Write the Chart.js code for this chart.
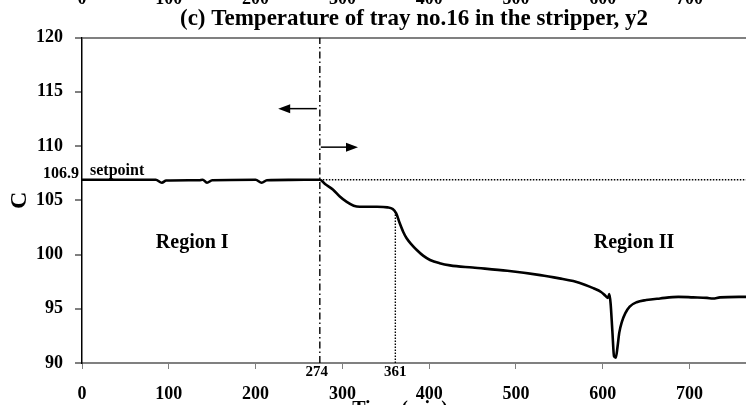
<!DOCTYPE html>
<html>
<head>
<meta charset="utf-8">
<script src="https://cdn.jsdelivr.net/npm/chart.js@4.4.1/dist/chart.umd.min.js"></script>
<style>
    html, body { margin: 0; padding: 0; background: #ffffff; }
    #wrap { width: 746px; height: 405px; position: relative; }
</style>
</head>
<body>
<div id="wrap"><canvas id="trayChart"></canvas></div>
<script>
// Tray no.16 temperature (y2)
const timeMin = [0, 85, 92, 97, 135, 139, 144, 150, 200, 207, 213, 240, 274,
    280, 289, 297, 305, 313, 320, 340, 352, 358, 362, 366, 370, 374, 380, 386,
    393, 401, 412, 424, 450, 490, 528, 550, 566, 580, 589, 598, 603, 606, 607.5,
    609, 611, 613, 615, 617, 619, 622, 626, 631, 639, 650, 666, 687, 704, 720,
    727, 735, 765];
const tempC = [106.9, 106.9, 106.62, 106.82, 106.85, 106.9, 106.62, 106.85,
    106.9, 106.62, 106.85, 106.88, 106.9,
    106.5, 106.0, 105.35, 104.85, 104.5, 104.4, 104.4, 104.35, 104.2, 103.8,
    102.9, 102.1, 101.5, 100.9, 100.4, 99.9, 99.5, 99.2, 99.0, 98.8, 98.5,
    98.1, 97.8, 97.55, 97.2, 96.9, 96.55, 96.2, 96.0, 96.35, 95.5, 93.0, 90.6,
    90.5, 91.5, 92.8, 93.8, 94.6, 95.2, 95.6, 95.8, 95.95, 96.1, 96.05, 96.0,
    95.95, 96.05, 96.1];

const xTicks = [0, 100, 200, 300, 400, 500, 600, 700];
const yTicks = [90, 95, 100, 105, 110, 115, 120];

const setpoint = 106.9;
const switchTime = 274;
const settleTime = 361;
const settleTemp = 104.0;
const xEnd = 765;

const serif = '"Liberation Serif", "Times New Roman", serif';

// Helpers
function pts(xs, ys) {
    return xs.map((x, i) => ({ x: x, y: ys[i] }));
}

function arrow(ctx, x1, y, x2) {
    const dir = x2 > x1 ? 1 : -1;
    ctx.beginPath();
    ctx.moveTo(x1, y);
    ctx.lineTo(x2 - dir * 10, y);
    ctx.stroke();
    ctx.beginPath();
    ctx.moveTo(x2, y);
    ctx.lineTo(x2 - dir * 12, y - 4.5);
    ctx.lineTo(x2 - dir * 12, y + 4.5);
    ctx.closePath();
    ctx.fill();
}

// Text, arrows and the cut-off bits of the neighbouring panels
const notesPlugin = {
    id: 'notes',
    afterDraw(chart) {
        const ctx = chart.ctx;
        const xs = chart.scales.x;
        const ys = chart.scales.y;
        const area = chart.chartArea;
        ctx.save();
        ctx.fillStyle = '#000';
        ctx.strokeStyle = '#000';

        // setpoint value and label
        const ySp = ys.getPixelForValue(setpoint);
        ctx.font = 'bold 16px ' + serif;
        ctx.textAlign = 'right';
        ctx.textBaseline = 'alphabetic';
        ctx.fillText('106.9', area.left - 3, ySp - 2);
        ctx.textAlign = 'left';
        ctx.fillText('setpoint', area.left + 8, ySp - 5);

        // switch / settle time labels under the axis
        ctx.font = 'bold 15px ' + serif;
        ctx.textAlign = 'center';
        ctx.textBaseline = 'top';
        ctx.fillText(String(switchTime), xs.getPixelForValue(switchTime) - 3, area.bottom + 2);
        ctx.fillText(String(settleTime), xs.getPixelForValue(settleTime), area.bottom + 2);

        // region labels
        ctx.font = 'bold 20px ' + serif;
        ctx.textBaseline = 'middle';
        ctx.fillText('Region I', xs.getPixelForValue(127), ys.getPixelForValue(101.1));
        ctx.fillText('Region II', xs.getPixelForValue(636), ys.getPixelForValue(101.1));

        // arrows either side of the switch line
        ctx.lineWidth = 1.5;
        arrow(ctx, xs.getPixelForValue(switchTime) - 3, ys.getPixelForValue(113.45), xs.getPixelForValue(226));
        arrow(ctx, xs.getPixelForValue(switchTime) + 1, ys.getPixelForValue(109.9), xs.getPixelForValue(318));

        // bottom of the previous panel's tick labels, clipped at the top
        ctx.font = 'bold 18px ' + serif;
        ctx.textBaseline = 'alphabetic';
        xTicks.forEach(v => {
            ctx.fillText(String(v), xs.getPixelForValue(v), 4);
        });

        // x axis title, mostly cut off by the bottom edge
        ctx.textBaseline = 'top';
        ctx.font = 'bold 20px ' + serif;
        ctx.fillText('Time (min)', 400, 400);
        ctx.restore();
    }
};

const ctx = document.getElementById('trayChart').getContext('2d');
new Chart(ctx, {
    type: 'line',
    data: {
        datasets: [
            {
                data: pts(timeMin, tempC),
                borderColor: '#000',
                borderWidth: 2.6,
                pointRadius: 0,
                cubicInterpolationMode: 'monotone',
                fill: false
            },
            {
                data: pts([switchTime, xEnd], [setpoint, setpoint]),
                borderColor: '#000',
                borderWidth: 1.4,
                borderDash: [1.5, 1.5],
                pointRadius: 0
            },
            {
                data: pts([switchTime, switchTime], [90, 120]),
                borderColor: '#000',
                borderWidth: 1.4,
                borderDash: [7, 3, 1.5, 3],
                pointRadius: 0
            },
            {
                data: pts([settleTime, settleTime], [90, settleTemp]),
                borderColor: '#000',
                borderWidth: 1.4,
                borderDash: [1.5, 1.5],
                pointRadius: 0
            }
        ]
    },
    options: {
        responsive: true,
        maintainAspectRatio: false,
        animation: false,
        layout: { padding: 0 },
        plugins: {
            legend: { display: false },
            tooltip: { enabled: false },
            title: {
                display: true,
                fullSize: false,
                text: '(c) Temperature of tray no.16 in the stripper, y2',
                color: '#000',
                font: { family: serif, size: 23, weight: 'bold' },
                padding: { top: 5, bottom: 5 }
            }
        },
        scales: {
            x: {
                type: 'linear',
                min: 0,
                max: xEnd,
                afterBuildTicks: s => { s.ticks = xTicks.map(v => ({ value: v })); },
                afterFit: s => { s.height = 42; },
                border: { color: '#808080', width: 2 },
                grid: { drawOnChartArea: false, tickLength: 6, color: '#808080' },
                ticks: {
                    color: '#000',
                    padding: 15,
                    maxRotation: 0,
                    autoSkip: false,
                    font: { family: serif, size: 18, weight: 'bold' }
                }
            },
            y: {
                min: 90,
                max: 120,
                afterBuildTicks: s => { s.ticks = yTicks.map(v => ({ value: v })); },
                afterFit: s => { s.width = 82; },
                border: { color: '#000', width: 1.5 },
                grid: {
                    color: c => (c.tick && c.tick.value === 120 ? '#808080' : 'rgba(0,0,0,0)'),
                    lineWidth: 2,
                    tickColor: '#000',
                    tickWidth: 1,
                    tickLength: 7
                },
                ticks: {
                    color: '#000',
                    padding: 12,
                    font: { family: serif, size: 18, weight: 'bold' }
                },
                title: {
                    display: true,
                    text: 'C',
                    color: '#000',
                    padding: { top: 5, bottom: 0 },
                    font: { family: serif, size: 24, weight: 'bold' }
                }
            }
        }
    },
    plugins: [notesPlugin]
});
</script>
</body>
</html>
